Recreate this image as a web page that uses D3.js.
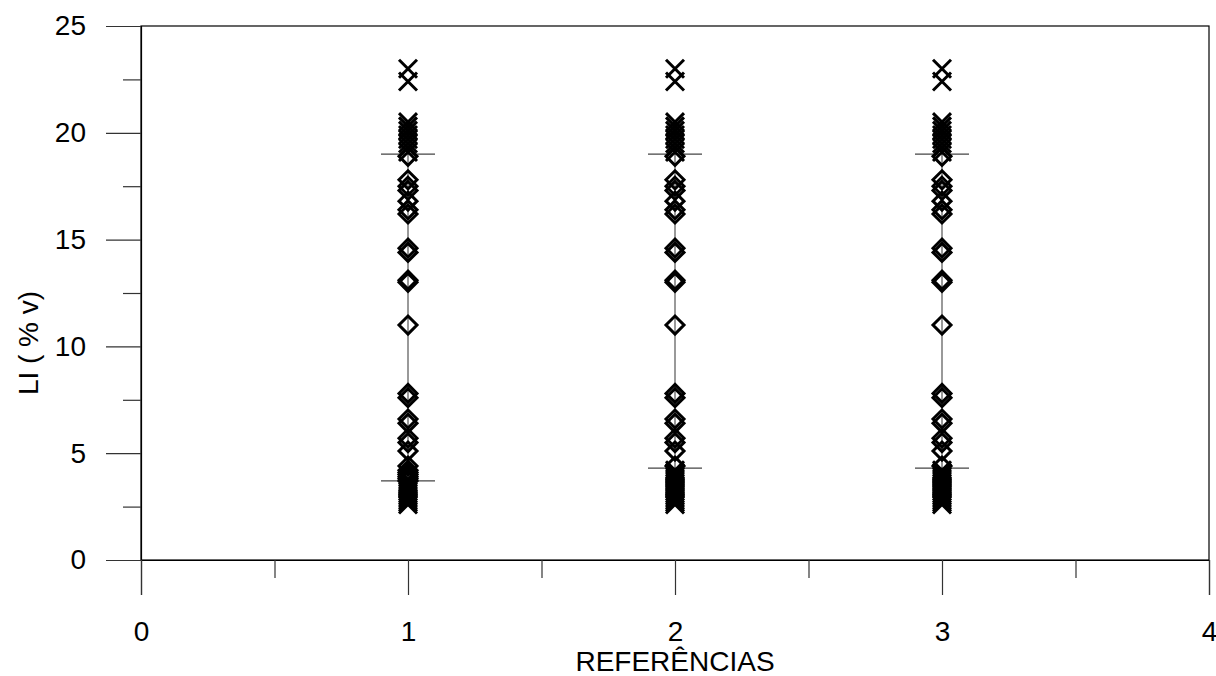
<!DOCTYPE html>
<html>
<head>
<meta charset="utf-8">
<script src="https://cdn.jsdelivr.net/npm/d3@7/dist/d3.min.js"></script>
<style>
  html, body { margin: 0; padding: 0; background: #fff; }
  svg { display: block; font-family: "Liberation Sans", Arial, sans-serif; }
</style>
</head>
<body>
<svg id="chart" width="1216" height="676"></svg>
<script>
// Reference groups on the x axis
const categories = [1, 2, 3];

// LI readings (% v) for each group
const valuesRef1 = [23.0, 22.4, 20.5, 20.3, 20.1, 19.9, 19.7, 19.5, 19.3, 19.1, 18.9, 17.8, 17.5, 17.3, 16.8, 16.4, 16.2,
  14.6, 14.4, 13.1, 13.0, 11.0, 7.8, 7.6, 6.6, 6.4, 5.7, 5.5, 5.1, 4.4, 4.2, 4.1, 4.0, 3.9, 3.8, 3.7, 3.6, 3.5,
  3.4, 3.3, 3.2, 3.1, 3.0, 2.9, 2.8, 2.7, 2.6];
const valuesRef2 = [23.0, 22.4, 20.5, 20.3, 20.1, 19.9, 19.7, 19.5, 19.3, 19.1, 18.9, 17.8, 17.5, 17.3, 16.8, 16.4, 16.2,
  14.6, 14.4, 13.1, 13.0, 11.0, 7.8, 7.6, 6.6, 6.4, 5.7, 5.5, 5.1, 4.4, 4.2, 4.1, 4.0, 3.9, 3.8, 3.7, 3.6, 3.5,
  3.4, 3.3, 3.2, 3.1, 3.0, 2.9, 2.8, 2.7, 2.6];
const valuesRef3 = [23.0, 22.4, 20.5, 20.3, 20.1, 19.9, 19.7, 19.5, 19.3, 19.1, 18.9, 17.8, 17.5, 17.3, 16.8, 16.4, 16.2,
  14.6, 14.4, 13.1, 13.0, 11.0, 7.8, 7.6, 6.6, 6.4, 5.7, 5.5, 5.1, 4.4, 4.2, 4.1, 4.0, 3.9, 3.8, 3.7, 3.6, 3.5,
  3.4, 3.3, 3.2, 3.1, 3.0, 2.9, 2.8, 2.7, 2.6];

// Whisker limits for each group
const upperWhisker = [19.0, 19.0, 19.0];
const lowerWhisker = [3.7, 4.3, 4.3];

// Axis ticks
const xMajorTicks = [0, 1, 2, 3, 4];
const xMinorTicks = [0.5, 1.5, 2.5, 3.5];
const yMajorTicks = [0, 5, 10, 15, 20, 25];
const yMinorTicks = [2.5, 7.5, 12.5, 17.5, 22.5];

const groups = categories.map((c, i) => ({
  cat: c,
  values: [valuesRef1, valuesRef2, valuesRef3][i],
  hi: upperWhisker[i],
  lo: lowerWhisker[i]
}));

const svg = d3.select("#chart");
const plotLeft = 141, plotRight = 1209, plotTop = 26, plotBottom = 560;

const x = d3.scaleLinear().domain([0, 4]).range([plotLeft, plotRight]);
const y = d3.scaleLinear().domain([0, 25]).range([plotBottom, plotTop]);

const fontSize = 28;
const tickColor = "#333";

// Plot frame
svg.append("rect")
  .attr("x", plotLeft).attr("y", plotTop)
  .attr("width", plotRight - plotLeft).attr("height", plotBottom - plotTop)
  .attr("fill", "none").attr("stroke", "#000").attr("stroke-width", 1.2);

// Y axis: major and minor ticks pointing left
svg.append("g").attr("transform", `translate(${plotLeft},0)`)
  .call(d3.axisLeft(y).tickValues(yMajorTicks).tickSize(35).tickPadding(20).tickFormat(d3.format("d")));
svg.append("g").attr("transform", `translate(${plotLeft},0)`)
  .call(d3.axisLeft(y).tickValues(yMinorTicks).tickSize(18).tickFormat(""))
  .call(g => g.select(".domain").remove());

// X axis: major and minor ticks pointing down
svg.append("g").attr("transform", `translate(0,${plotBottom})`)
  .call(d3.axisBottom(x).tickValues(xMajorTicks).tickSize(35).tickPadding(26).tickFormat(d3.format("d")));
svg.append("g").attr("transform", `translate(0,${plotBottom})`)
  .call(d3.axisBottom(x).tickValues(xMinorTicks).tickSize(18).tickFormat(""))
  .call(g => g.select(".domain").remove());

svg.selectAll(".domain").attr("stroke", "#000").attr("stroke-width", 1.2);
svg.selectAll(".tick line").attr("stroke", tickColor).attr("stroke-width", 1.2);
svg.selectAll(".tick text")
  .attr("font-family", "'Liberation Sans', Arial, sans-serif")
  .attr("font-size", fontSize).attr("fill", "#000");

// Axis titles
svg.append("text")
  .attr("x", x(2)).attr("y", 671)
  .attr("text-anchor", "middle")
  .attr("font-size", fontSize)
  .text("REFERÊNCIAS");

svg.append("text")
  .attr("transform", `translate(38,343) rotate(-90)`)
  .attr("text-anchor", "middle")
  .attr("font-size", fontSize)
  .text("LI ( % v)");

// Whiskers, caps and points for each group
const capHalf = 27;
const m = 9; // marker half-size

const g = svg.selectAll(".group").data(groups).join("g").attr("class", "group");

g.append("line")
  .attr("x1", d => x(d.cat)).attr("x2", d => x(d.cat))
  .attr("y1", d => y(d.lo)).attr("y2", d => y(d.hi))
  .attr("stroke", "#555").attr("stroke-width", 1.2);

g.selectAll(".cap")
  .data(d => [d.lo, d.hi].map(v => ({ cat: d.cat, v })))
  .join("line").attr("class", "cap")
  .attr("x1", d => x(d.cat) - capHalf).attr("x2", d => x(d.cat) + capHalf)
  .attr("y1", d => y(d.v)).attr("y2", d => y(d.v))
  .attr("stroke", "#444").attr("stroke-width", 1.2);

// Points inside the whiskers: diamonds
g.selectAll(".inner")
  .data(d => d.values.filter(v => v >= d.lo && v <= d.hi).map(v => ({ cat: d.cat, v })))
  .join("path").attr("class", "inner")
  .attr("d", d => {
    const cx = x(d.cat), cy = y(d.v);
    return `M${cx},${cy - m}L${cx + m},${cy}L${cx},${cy + m}L${cx - m},${cy}Z`;
  })
  .attr("fill", "none").attr("stroke", "#000").attr("stroke-width", 3);

// Points outside the whiskers: crosses
g.selectAll(".outer")
  .data(d => d.values.filter(v => v < d.lo || v > d.hi).map(v => ({ cat: d.cat, v })))
  .join("path").attr("class", "outer")
  .attr("d", d => {
    const cx = x(d.cat), cy = y(d.v);
    return `M${cx - m},${cy - m}L${cx + m},${cy + m}M${cx + m},${cy - m}L${cx - m},${cy + m}`;
  })
  .attr("fill", "none").attr("stroke", "#000").attr("stroke-width", 3);
</script>
</body>
</html>
